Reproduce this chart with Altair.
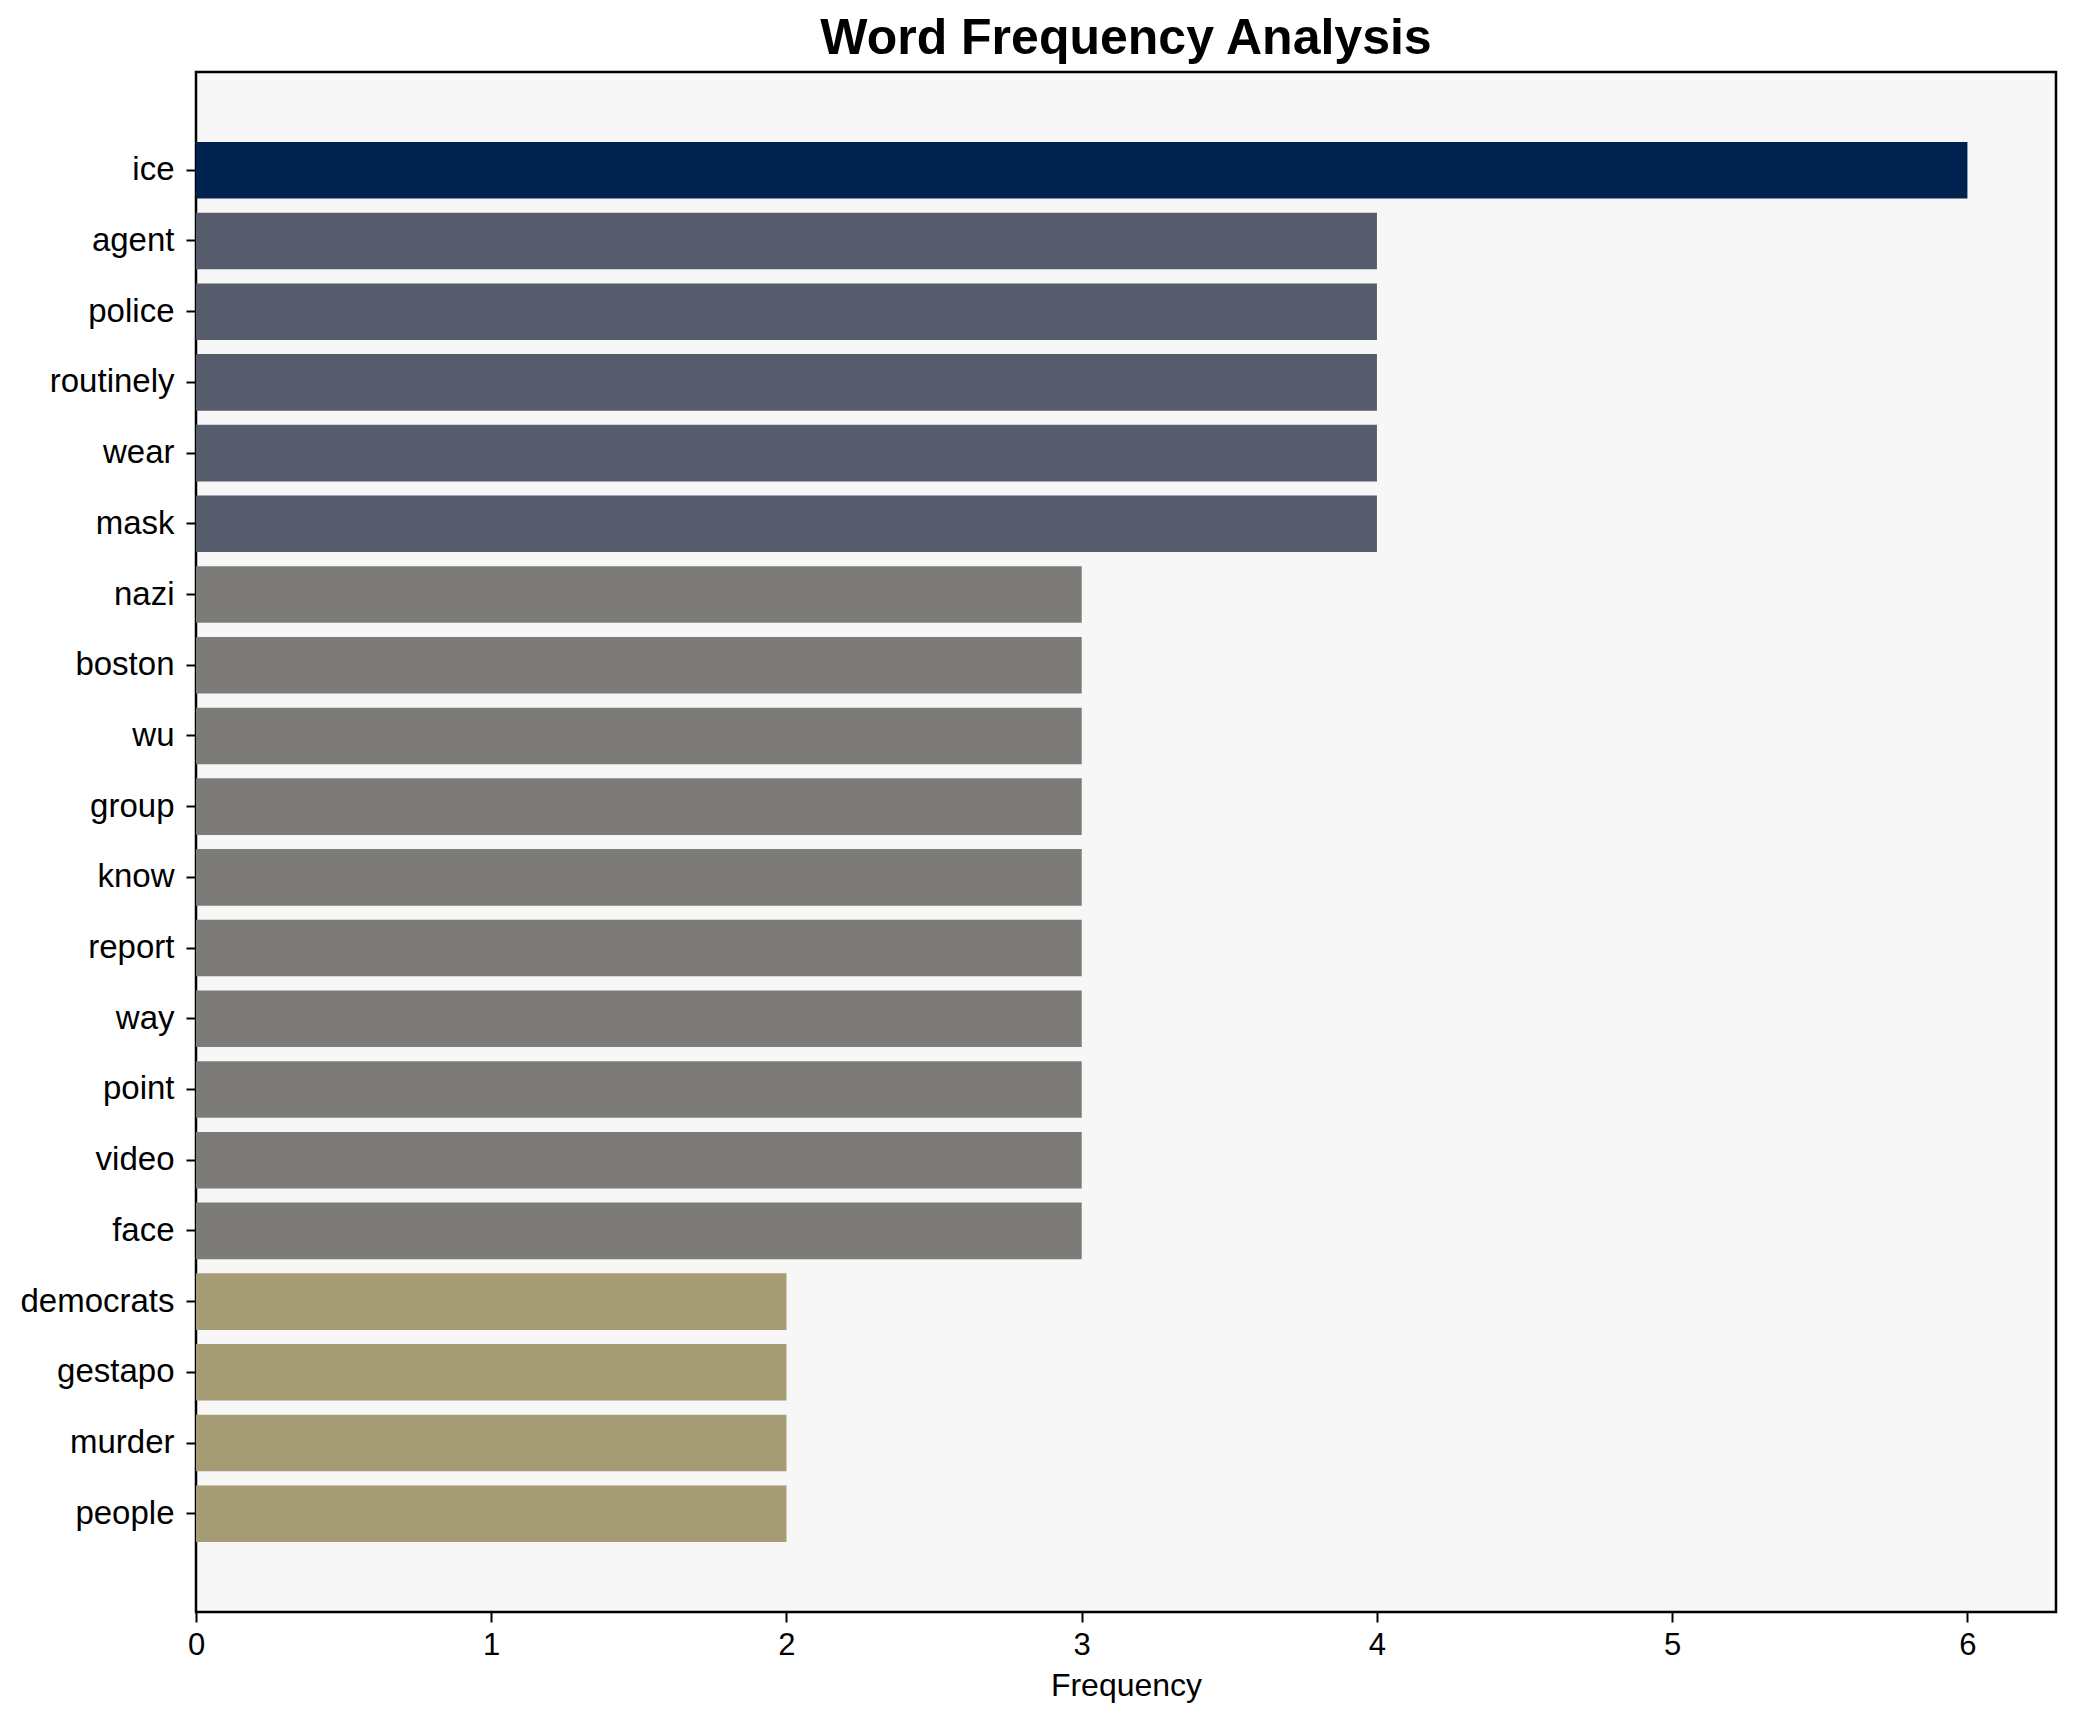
import altair as alt
import pandas as pd

words = ["ice", "agent", "police", "routinely", "wear", "mask", "nazi", "boston",
         "wu", "group", "know", "report", "way", "point", "video", "face",
         "democrats", "gestapo", "murder", "people"]
freqs = [6, 4, 4, 4, 4, 4, 3, 3, 3, 3, 3, 3, 3, 3, 3, 3, 2, 2, 2, 2]
x_ticks = [0, 1, 2, 3, 4, 5, 6]

level_values = [6, 4, 3, 2]
level_colors = ["#00224e", "#575c6d", "#7c7b78", "#a59c74"]

df = pd.DataFrame({"word": words, "freq": freqs})

FONT = "Liberation Sans"

chart = (
    alt.Chart(df)
    .mark_bar()
    .encode(
        x=alt.X(
            "freq:Q",
            title="Frequency",
            scale=alt.Scale(domain=[0, 6.3], nice=False, zero=True),
            axis=alt.Axis(values=x_ticks, format="d", grid=False, domain=False,
                          tickSize=10, tickWidth=2, tickColor="black",
                          labelFlush=False,
                          labelPadding=8, labelFontSize=31, labelColor="black",
                          titleFontSize=32, titleFontWeight="normal", titleColor="black",
                          titlePadding=10, labelFont=FONT, titleFont=FONT),
        ),
        y=alt.Y(
            "word:N",
            sort=words,
            title=None,
            scale=alt.Scale(paddingInner=0.2, paddingOuter=0.99),
            axis=alt.Axis(grid=False, domain=False, tickSize=10, tickWidth=2,
                          tickColor="black", labelPadding=12, labelFontSize=33,
                          labelColor="black", labelFont=FONT),
        ),
        color=alt.Color("freq:O",
                        scale=alt.Scale(domain=level_values, range=level_colors),
                        legend=None),
    )
    .properties(
        width=1860,
        height=1540,
        title=alt.TitleParams("Word Frequency Analysis", font=FONT, fontSize=50,
                              fontWeight="bold", color="black", anchor="middle",
                              offset=8),
        padding={"left": 11, "top": 6, "right": 5, "bottom": 5},
    )
    .configure(background="white")
    .configure_view(stroke="black", strokeWidth=2.5, fill="#f7f7f7")
)

chart.save("out.html", embed_options={"renderer": "svg", "actions": False})
